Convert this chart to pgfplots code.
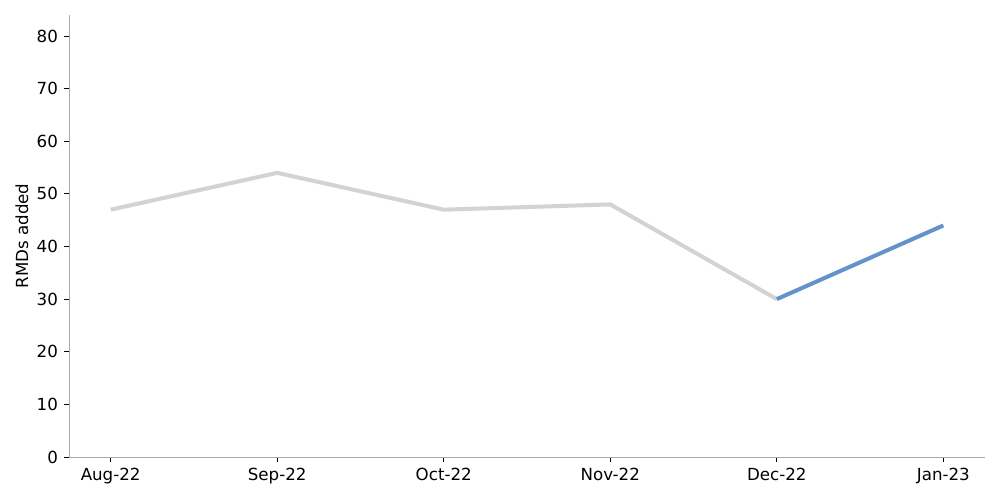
\documentclass[border=0pt]{standalone}
\usepackage{fontspec}
\setmainfont{DejaVu Sans}
\usepackage{pgfplots}
\pgfplotsset{compat=1.18}
\definecolor{lgray}{RGB}{211,211,211}
\definecolor{hblue}{RGB}{100,146,202}
\definecolor{spine}{RGB}{170,170,170}
\begin{document}
\begin{tikzpicture}
\begin{axis}[
  at={(0,0)}, anchor=south west,
  scale only axis, width=659.5pt, height=318.2pt,
  xmin=-0.25, xmax=5.25, ymin=0, ymax=84,
  axis lines=left,
  axis line style={-, draw=spine, line width=0.6pt},
  xtick={0,1,2,3,4,5},
  xticklabels={Aug-22,Sep-22,Oct-22,Nov-22,Dec-22,Jan-23},
  ytick={0,10,20,30,40,50,60,70,80},
  tick align=outside,
  major tick length=3.5pt,
  tick style={black, line width=0.6pt},
  tick label style={font=\fontsize{12}{14}\selectfont},
  /pgf/number format/assume math mode=true,
  ylabel={RMDs added},
  ylabel style={font=\fontsize{12}{14}\selectfont, at={(axis description cs:0,0.5)}, yshift=33.9pt, anchor=center},
  xticklabel style={yshift=-1pt},
  yticklabel style={xshift=-1pt},
  clip=false,
]
\addplot[lgray, line width=2.9pt] coordinates {(0,47) (1,54) (2,47) (3,48) (4,30)};
\addplot[hblue, line width=2.9pt] coordinates {(4,30) (5,44)};
\end{axis}
\path[use as bounding box] (-49.7pt,-31pt) rectangle (670.3pt,329pt);
\end{tikzpicture}
\end{document}
